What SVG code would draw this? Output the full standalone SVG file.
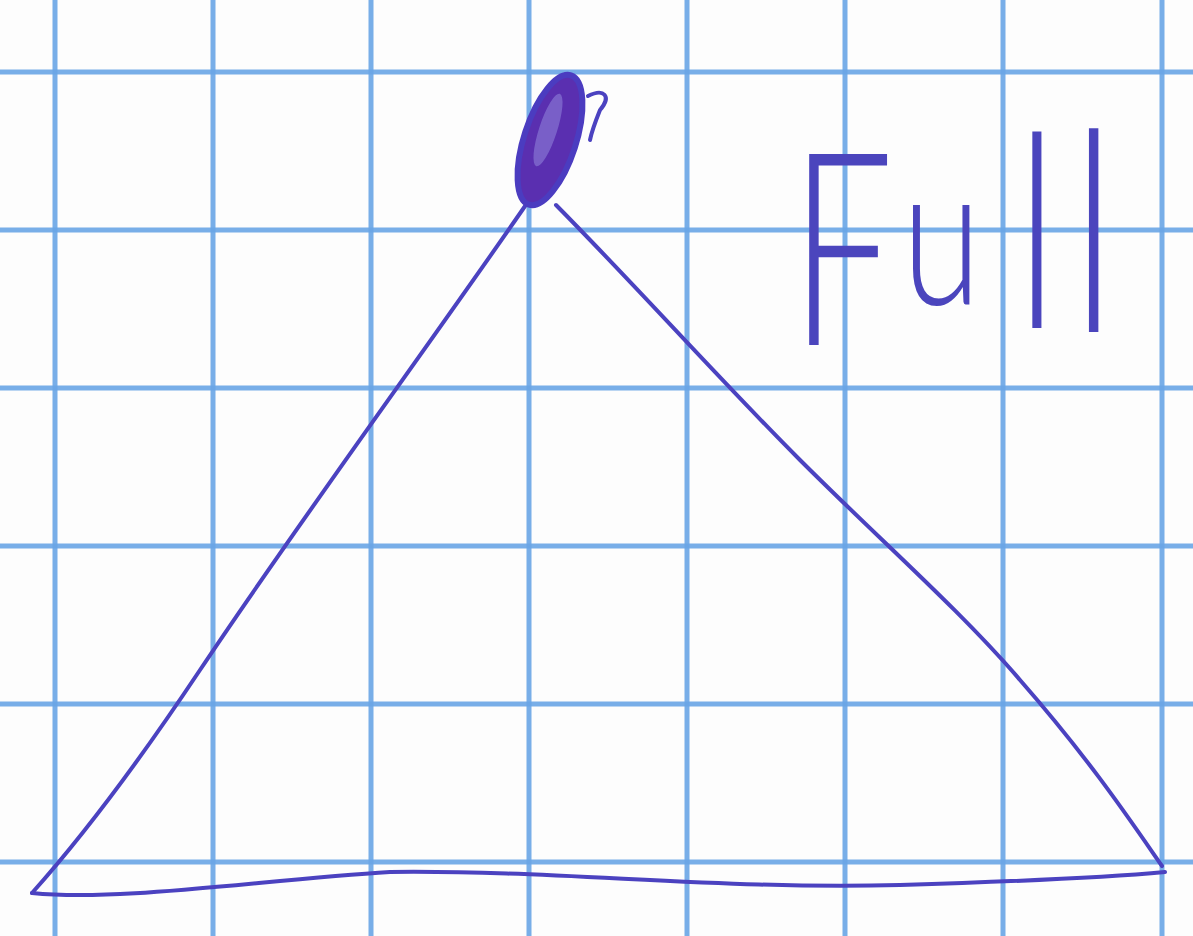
<svg xmlns="http://www.w3.org/2000/svg" width="1193" height="936" viewBox="0 0 1193 936">
<style>
.grid line{stroke:#6aa6e6;stroke-width:5;opacity:0.9}
.pen{fill:none;stroke:#4b42c0;stroke-width:4;stroke-linecap:round;stroke-linejoin:round}
.label{font-family:Lato,"DejaVu Sans","Liberation Sans",sans-serif;font-weight:300;fill:#4b45bd}
</style>
<rect width="1193" height="936" fill="#fdfdfd"/>
<g class="grid">
<line x1="55" y1="0" x2="55" y2="936"/>
<line x1="213" y1="0" x2="213" y2="936"/>
<line x1="371" y1="0" x2="371" y2="936"/>
<line x1="529" y1="0" x2="529" y2="936"/>
<line x1="687" y1="0" x2="687" y2="936"/>
<line x1="845" y1="0" x2="845" y2="936"/>
<line x1="1003" y1="0" x2="1003" y2="936"/>
<line x1="1162" y1="0" x2="1162" y2="936"/>
<line x1="0" y1="72" x2="1193" y2="72"/>
<line x1="0" y1="230" x2="1193" y2="230"/>
<line x1="0" y1="388" x2="1193" y2="388"/>
<line x1="0" y1="546" x2="1193" y2="546"/>
<line x1="0" y1="704" x2="1193" y2="704"/>
<line x1="0" y1="862" x2="1193" y2="862"/>
</g>
<g id="triangle">
<path class="pen" d="M532 196 C 440 330, 300 520, 200 670 C 130 775, 75 845, 32 893"/>
<path class="pen" d="M32 893 C 120 902, 260 880, 390 872 C 560 870, 720 890, 900 885 C 1000 882, 1100 878, 1165 872"/>
<path class="pen" d="M556 205 C 640 290, 720 380, 800 460 C 880 540, 960 610, 1020 680 C 1090 760, 1130 820, 1162 866"/>
</g>
<g id="apex">
<ellipse cx="550" cy="140" rx="26" ry="68" transform="rotate(18 550 140)" fill="#5a2fb0" stroke="#4b3cc0" stroke-width="6"/>
<ellipse cx="548" cy="130" rx="9" ry="38" transform="rotate(18 548 130)" fill="#8d80d8" opacity="0.6"/>
<path class="pen" d="M588 96 C 604 88, 612 96, 600 110 C 596 120, 592 130, 590 140" stroke-width="6"/>
</g>
<g id="label-full">
<text class="label" font-size="270" transform="translate(790 345) scale(0.68 1)">F</text>
<text class="label" font-size="200" transform="translate(902 304) scale(0.72 1)">u</text>
<text class="label" font-size="270" transform="translate(1016 328) scale(0.7 1)">l</text>
<text class="label" font-size="280" transform="translate(1072 332) scale(0.7 1)">l</text>
</g>
</svg>
